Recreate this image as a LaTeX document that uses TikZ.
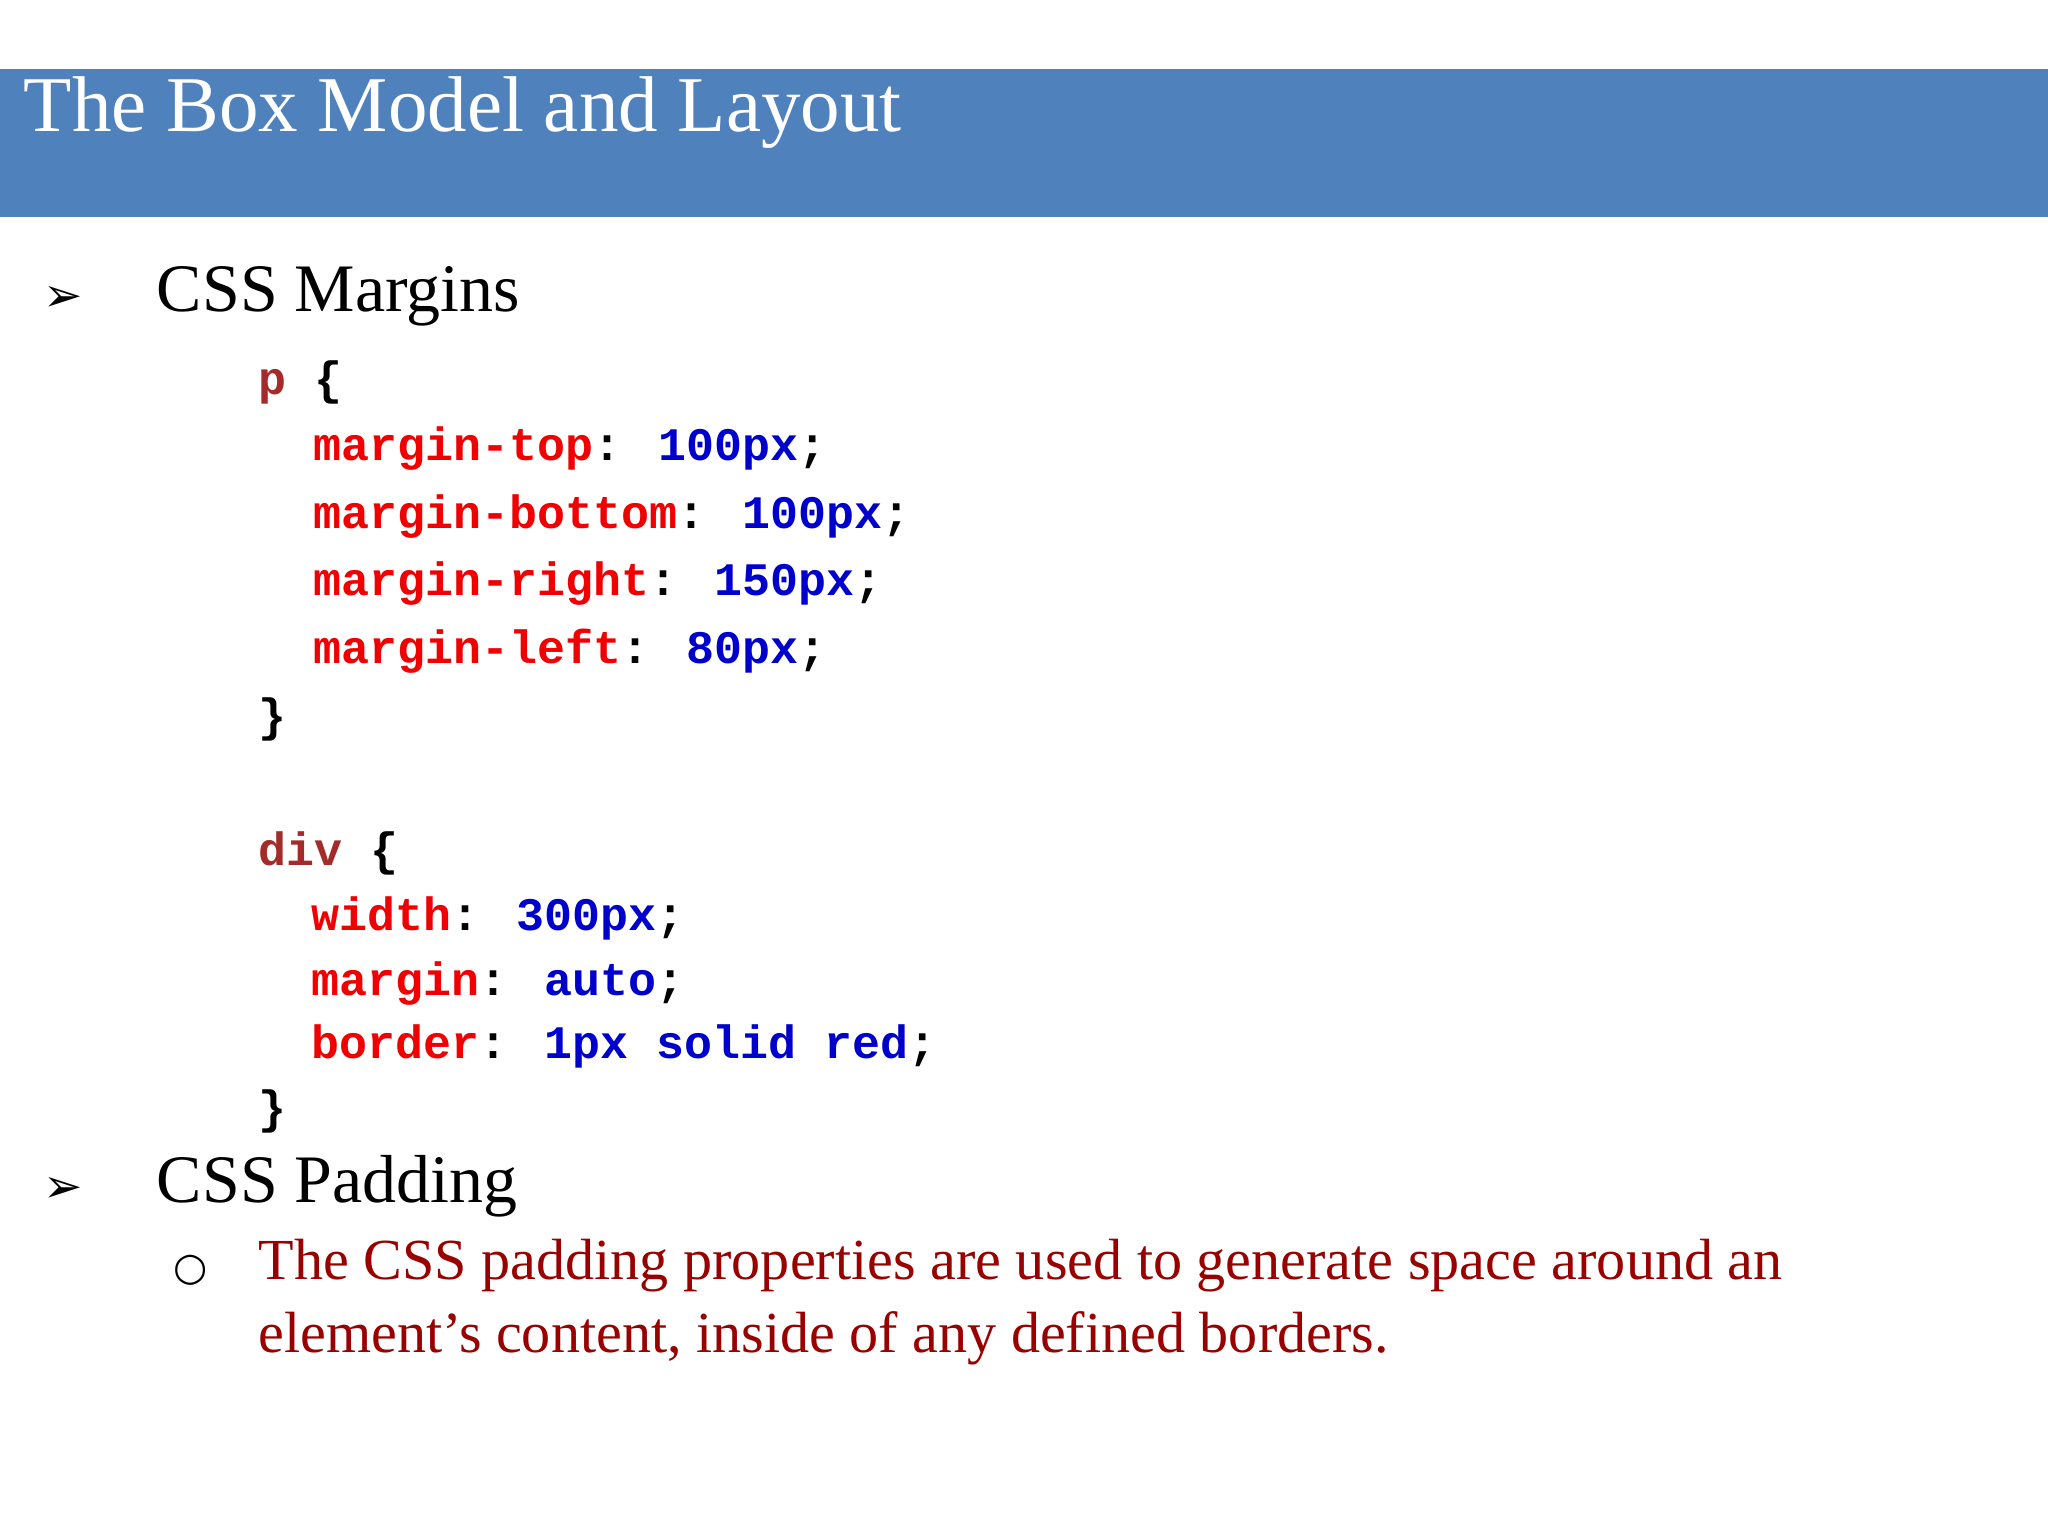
\documentclass[tikz,border=0pt]{standalone}
\usepackage{fontspec}
\setmainfont{Liberation Serif}
\newfontfamily\codef{Liberation Mono}[BoldFont={Liberation Mono Bold}]
\newfontfamily\symf{DejaVu Sans}
\definecolor{barblue}{HTML}{4F81BD}
\definecolor{selc}{HTML}{A52A2A}
\definecolor{propc}{HTML}{F00000}
\definecolor{valc}{HTML}{0000CD}
\definecolor{txtc}{HTML}{990000}
\newcommand{\sel}[1]{\textcolor{selc}{#1}}
\newcommand{\prp}[1]{\textcolor{propc}{#1}}
\newcommand{\vl}[1]{\textcolor{valc}{#1}}
\begin{document}
\begin{tikzpicture}[x=1pt,y=-1pt,
  every node/.style={inner sep=0pt,anchor=mid west},
  code/.style={font=\codef\bfseries\fontsize{35.7}{40}\selectfont},
  head/.style={font=\fontsize{52}{60}\selectfont},
  body/.style={font=\fontsize{44.5}{56}\selectfont,text=txtc},
  arr/.style={font=\symf\fontsize{36}{40}\selectfont}]
\useasboundingbox (0,0) rectangle (1568,1176);
\fill[barblue] (0,53) rectangle (1568,166);
\node[text=white,font=\fontsize{60.5}{70}\selectfont] (title) at (18,98) {The Box Model and Layout};
\node[arr] (a1) at (33,236) {➢};
\node[head] (h1) at (120,236) {CSS Margins};
\node[code] (c1) at (198,300) {\sel{p} \{};
\node[code] (c2) at (240,350) {\prp{margin-top}: \vl{100px};};
\node[code] (c3) at (240,402) {\prp{margin-bottom}: \vl{100px};};
\node[code] (c4) at (240,454) {\prp{margin-right}: \vl{150px};};
\node[code] (c5) at (240,506) {\prp{margin-left}: \vl{80px};};
\node[code] (c6) at (198,558) {\}};
\node[code] (d1) at (198,660) {\sel{div} \{};
\node[code] (d2) at (238,710) {\prp{width}: \vl{300px};};
\node[code] (d3) at (238,760) {\prp{margin}: \vl{auto};};
\node[code] (d4) at (238,808) {\prp{border}: \vl{1px solid red};};
\node[code] (d5) at (198,858) {\}};
\node[arr] (a2) at (33,918) {➢};
\node[head] (h2) at (120,918) {CSS Padding};
\node[font=\symf\fontsize{30}{34}\selectfont] (b1) at (133,978) {○};
\node[body] (t1) at (198,977) {The CSS padding properties are used to generate space around an};
\node[body] (t2) at (198,1033) {element's content, inside of any defined borders.};
\end{tikzpicture}
\end{document}
